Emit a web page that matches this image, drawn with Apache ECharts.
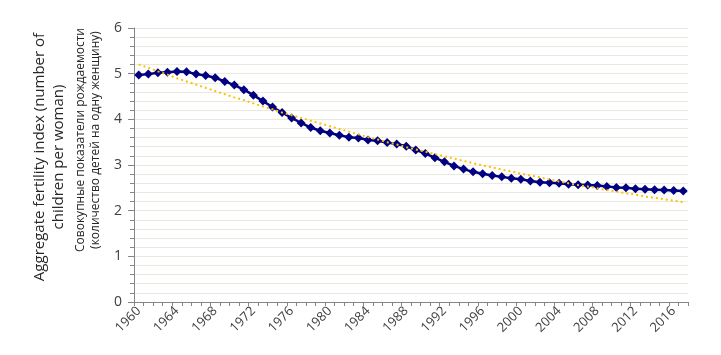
<!DOCTYPE html>
<html>
<head>
<meta charset="utf-8">
<script src="https://cdn.jsdelivr.net/npm/echarts@6/dist/echarts.min.js"></script>
<style>html,body{margin:0;padding:0;background:#fff;}#c{width:721px;height:355px;}</style>
</head>
<body>
<div id="c"></div>
<script>
var years = [];
for (var yr = 1960; yr <= 2017; yr++) years.push(String(yr));

var fertility = [
  4.97, 4.99, 5.02, 5.03, 5.05, 5.04, 4.99, 4.96, 4.91, 4.83,
  4.75, 4.65, 4.53, 4.40, 4.27, 4.15, 4.03, 3.92, 3.82, 3.75,
  3.70, 3.65, 3.61, 3.59, 3.55, 3.53, 3.49, 3.46, 3.41, 3.33,
  3.25, 3.16, 3.07, 2.98, 2.91, 2.85, 2.81, 2.77, 2.74, 2.71,
  2.69, 2.65, 2.62, 2.61, 2.60, 2.58, 2.57, 2.56, 2.55, 2.53,
  2.51, 2.50, 2.48, 2.47, 2.46, 2.45, 2.44, 2.43
];

var trend = [
  5.20, 5.13, 5.05, 4.98, 4.90, 4.83, 4.76, 4.69, 4.62, 4.55,
  4.48, 4.42, 4.35, 4.28, 4.22, 4.15, 4.09, 4.03, 3.97, 3.91,
  3.85, 3.79, 3.73, 3.67, 3.61, 3.56, 3.50, 3.45, 3.39, 3.34,
  3.29, 3.24, 3.19, 3.14, 3.09, 3.04, 2.99, 2.95, 2.90, 2.86,
  2.81, 2.77, 2.73, 2.68, 2.64, 2.60, 2.56, 2.53, 2.49, 2.45,
  2.42, 2.38, 2.35, 2.31, 2.28, 2.25, 2.22, 2.19
];

var titleEn = 'Aggregate fertility index (number of\nchildren per woman)';
var titleRu = 'Совокупные показатели рождаемости\n(количество детей на одну женщину)';

var FONT = '"Open Sans", "Noto Sans", sans-serif';
var chart = echarts.init(document.getElementById('c'), null, {renderer: 'canvas'});
chart.setOption({
  animation: false,
  backgroundColor: '#ffffff',
  grid: {left: 134, right: 33, top: 28, bottom: 53, containLabel: false},
  xAxis: {
    type: 'category',
    data: years,
    boundaryGap: true,
    axisLine: {show: true, lineStyle: {color: '#868686', width: 1}},
    axisTick: {show: true, interval: 0, length: 4, lineStyle: {color: '#868686'}},
    axisLabel: {interval: 3, rotate: 45, fontSize: 13, color: '#404040', fontFamily: FONT, margin: 7},
    splitLine: {show: false}
  },
  yAxis: {
    type: 'value',
    min: 0, max: 6, interval: 1,
    axisLine: {show: true, lineStyle: {color: '#868686', width: 1}},
    axisTick: {show: true, length: 6, lineStyle: {color: '#868686'}},
    minorTick: {show: true, splitNumber: 5, length: 4, lineStyle: {color: '#868686'}},
    axisLabel: {fontSize: 14, color: '#404040', fontFamily: FONT, margin: 12},
    splitLine: {show: true, lineStyle: {color: '#EAE7DC', width: 1}},
    minorSplitLine: {show: true, lineStyle: {color: '#EAE7DC', width: 1}}
  },
  graphic: [
    {
      type: 'text', x: 49, y: 157, rotation: Math.PI / 2,
      style: {text: titleEn, font: '15px ' + FONT, fill: '#262626',
              textAlign: 'center', textVerticalAlign: 'middle', lineHeight: 19}
    },
    {
      type: 'text', x: 88, y: 140, rotation: Math.PI / 2,
      style: {text: titleRu, font: '12px ' + FONT, fill: '#262626',
              textAlign: 'center', textVerticalAlign: 'middle', lineHeight: 15}
    }
  ],
  series: [
    {
      type: 'line',
      data: fertility,
      symbol: 'diamond',
      symbolSize: 9,
      showAllSymbol: true,
      itemStyle: {color: '#000080'},
      lineStyle: {color: '#000080', width: 2.5},
      z: 2
    },
    {
      type: 'line',
      data: trend,
      showSymbol: false,
      symbol: 'none',
      lineStyle: {color: '#FFC000', width: 2, type: [2, 3]},
      z: 3
    }
  ]
});
</script>
</body>
</html>
